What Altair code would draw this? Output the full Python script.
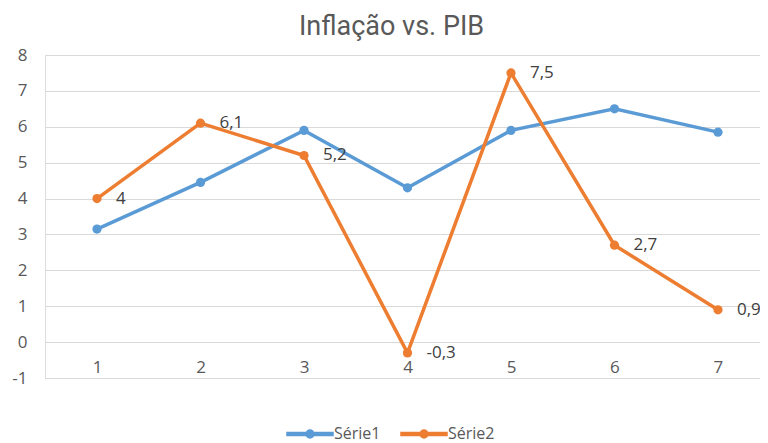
import altair as alt
import pandas as pd

categories = [1, 2, 3, 4, 5, 6, 7]
serie1 = [3.15, 4.45, 5.9, 4.3, 5.9, 6.5, 5.85]
serie2 = [4, 6.1, 5.2, -0.3, 7.5, 2.7, 0.9]
series_names = ["Série1", "Série2"]
y_ticks = [-1, 0, 1, 2, 3, 4, 5, 6, 7, 8]
title_text = "Inflação vs. PIB"

df = pd.DataFrame({
    "cat": categories + categories,
    "serie": [series_names[0]] * len(categories) + [series_names[1]] * len(categories),
    "val": serie1 + serie2,
})

FONT = "Open Sans"
AXIS_COLOR = "#595959"
colors = ["#5B9BD5", "#ED7D31"]
LBL = 17

x_enc = alt.X(
    "cat:Q",
    scale=alt.Scale(domain=[0.4976, 7.406], nice=False, zero=False),
    axis=alt.Axis(values=categories, format="d", title=None, grid=False, domain=False,
                  ticks=False, tickSize=0, offset=-36, labelPadding=17, labelFontSize=LBL,
                  labelColor=AXIS_COLOR, labelFont=FONT, labelFlush=False),
)
y_enc = alt.Y(
    "val:Q",
    scale=alt.Scale(domain=[-1, 8], nice=False, zero=False),
    axis=alt.Axis(values=y_ticks, title=None, domain=False, ticks=False, tickSize=0,
                  labelExpr="toString(datum.value)",
                  labelPadding=18, labelFontSize=LBL, labelColor=AXIS_COLOR, labelFont=FONT,
                  gridColor="#D9D9D9", gridWidth=1),
)

legend_path = ("M-1,-0.065H1V0.065H-1Z "
               "M-0.174,0A0.174,0.174 0 1,1 0.174,0A0.174,0.174 0 1,1 -0.174,0Z")

legend = alt.Legend(title=None, orient="none", direction="horizontal",
                    legendX=241, legendY=355,
                    symbolType=legend_path, symbolSize=2116, symbolOpacity=1,
                    labelFontSize=16, labelColor=AXIS_COLOR, labelFont=FONT,
                    labelOffset=0, columnPadding=17)

color_scale = alt.Scale(domain=series_names, range=colors)
color_enc = alt.Color("serie:N", scale=color_scale, legend=legend)

lines = alt.Chart(df).mark_line(strokeWidth=3.5).encode(
    x=x_enc, y=y_enc, color=color_enc,
)

points = alt.Chart(df).mark_point(filled=True, size=85, opacity=1).encode(
    x=x_enc, y=y_enc, color=color_enc,
)

labels = alt.Chart(df).transform_filter(
    alt.datum.serie == series_names[1]
).transform_calculate(
    lbl="replace(toString(datum.val), '.', ',')"
).mark_text(align="left", baseline="middle", dx=19, fontSize=LBL, font=FONT, color="#404040").encode(
    x=x_enc, y=y_enc, text="lbl:N",
)

chart = alt.layer(lines, points, labels).properties(
    width=715,
    height=323,
    padding={"left": 37, "top": 47, "right": 0, "bottom": 65},
    autosize=alt.AutoSizeParams(type="none"),
    title=alt.TitleParams(title_text, fontSize=27, font="Roboto", color=AXIS_COLOR,
                          fontWeight="normal", anchor="middle", offset=5, dx=-11),
).configure_view(stroke=None).configure(background="white")

chart.save("out.html", embed_options={"renderer": "svg", "actions": False})
